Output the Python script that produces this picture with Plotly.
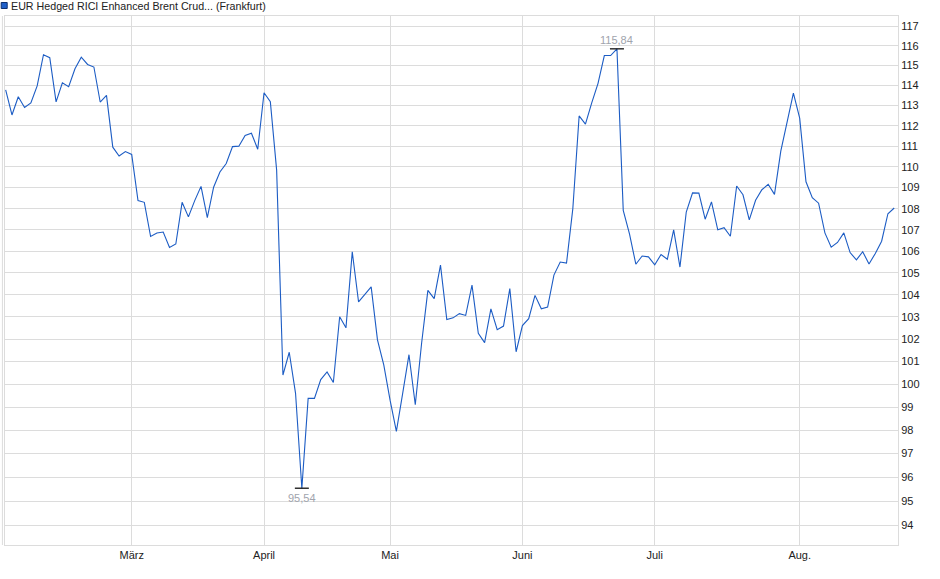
import numpy as np
import plotly.graph_objects as go

# ---- data ----
title_text = "EUR Hedged RICI Enhanced Brent Crud... (Frankfurt)"
month_labels = ["März", "April", "Mai", "Juni", "Juli", "Aug."]
# trading days per month: Feb, Mar, Apr, May, Jun, Jul, Aug(partial)
month_days = [20, 21, 20, 21, 21, 23, 16]

prices = [
    # Feb
    113.77, 112.53, 113.43, 112.90, 113.13, 113.97, 115.54, 115.39, 113.18, 114.13,
    113.93, 114.83, 115.42, 115.05, 114.92, 113.17, 113.50, 110.95, 110.52, 110.74,
    # Mar
    110.60, 108.38, 108.30, 106.69, 106.85, 106.90, 106.18, 106.34, 108.30, 107.61,
    108.38, 109.06, 107.58, 109.02, 109.75, 110.16, 110.98, 111.00, 111.52, 111.63,
    110.85,
    # Apr
    113.63, 113.18, 109.84, 100.40, 101.41, 99.60, 95.54, 99.38, 99.38, 100.20,
    100.54, 100.07, 103.00, 102.50, 105.97, 103.67, 104.00, 104.36, 101.96, 100.85,
    # May
    99.30, 97.95, 99.60, 101.30, 99.10, 101.80, 104.20, 103.82, 105.36, 102.87,
    102.95, 103.14, 103.06, 104.44, 102.25, 101.84, 103.36, 102.42, 102.58, 104.28,
    101.43,
    # Jun
    102.60, 102.91, 103.97, 103.36, 103.44, 104.90, 105.50, 105.45, 108.00, 112.48,
    112.08, 113.13, 114.10, 115.50, 115.50, 115.84, 107.92, 106.80, 105.40, 105.78,
    105.74,
    # Jul
    105.37, 105.85, 105.63, 107.00, 105.27, 107.84, 108.75, 108.74, 107.50, 108.32,
    107.00, 107.10, 106.70, 109.08, 108.66, 107.47, 108.40, 108.90, 109.16, 108.68,
    110.76, 112.13, 113.61,
    # Aug
    112.37, 109.28, 108.52, 108.26, 106.86, 106.19, 106.41, 106.86, 105.94, 105.60,
    105.98, 105.41, 105.90, 106.47, 107.76, 108.03,
]
y_ticks = list(range(94, 118))

# ---- derived ----
x = list(range(len(prices)))
month_starts = list(np.cumsum(month_days)[:-1])
i_max = int(np.argmax(prices))
i_min = int(np.argmin(prices))

def de(v):
    return f"{v:.2f}".replace(".", ",")

FONT = "Liberation Sans, Arial, sans-serif"
LINE_BLUE = "#1c5cc4"
GRID = "#dcdcdc"

fig = go.Figure()
fig.add_trace(go.Scatter(
    x=x, y=prices, mode="lines",
    line=dict(color=LINE_BLUE, width=1.1),
    hoverinfo="skip", showlegend=False,
))
# extreme markers (short black horizontal ticks)
fig.add_trace(go.Scatter(
    x=[i_max, i_min], y=[prices[i_max], prices[i_min]], mode="markers",
    marker=dict(symbol="line-ew", size=10, line=dict(color="#111111", width=1.3)),
    hoverinfo="skip", showlegend=False,
))

fig.add_annotation(x=i_max, y=np.log10(prices[i_max]), text=de(prices[i_max]),
                   showarrow=False, yshift=9, xshift=0,
                   font=dict(family=FONT, size=11, color="#a0a4ad"))
fig.add_annotation(x=i_min, y=np.log10(prices[i_min]), text=de(prices[i_min]),
                   showarrow=False, yshift=-10, xshift=0,
                   font=dict(family=FONT, size=11, color="#a0a4ad"))

# legend-like header
W, H = 940, 579
L, R, T, B = 5.3, 41.7, 16, 34
pw, ph = W - L - R, H - T - B
def px(xp):
    return (xp - L) / pw
def py(yp):
    return (H - B - yp) / ph

fig.add_shape(type="rect", xref="paper", yref="paper",
              x0=px(1.5), x1=px(7.5), y0=py(8.5), y1=py(2.5),
              fillcolor="#1f5fc8", line=dict(color="#0d2f6e", width=1))
fig.add_annotation(xref="paper", yref="paper", x=px(9), y=py(6),
                   xanchor="left", yanchor="middle", showarrow=False,
                   text=title_text,
                   font=dict(family=FONT, size=10.7, color="#222222"))
# outer left frame line
fig.add_shape(type="line", xref="paper", yref="paper",
              x0=px(2.7), x1=px(2.7), y0=py(545), y1=py(16),
              line=dict(color=GRID, width=1))

fig.update_layout(
    width=W, height=H,
    margin=dict(l=L, r=R, t=T, b=B, pad=0),
    paper_bgcolor="white", plot_bgcolor="white",
    font=dict(family=FONT, size=11, color="#222222"),
    showlegend=False,
    hovermode=False,
)
fig.update_xaxes(
    range=[-0.105, 141.6],
    tickmode="array", tickvals=month_starts, ticktext=month_labels,
    showgrid=True, gridcolor=GRID, gridwidth=1,
    showline=True, linecolor=GRID, linewidth=1, mirror=True,
    ticks="", zeroline=False,
    tickfont=dict(family=FONT, size=11, color="#222222"),
)
fig.update_yaxes(
    type="log", side="right",
    range=[np.log10(93.19), np.log10(117.52)],
    tickmode="array", tickvals=y_ticks, ticktext=[str(v) for v in y_ticks],
    showgrid=True, gridcolor=GRID, gridwidth=1,
    showline=True, linecolor=GRID, linewidth=1, mirror=True,
    ticks="", zeroline=False,
    tickfont=dict(family=FONT, size=11, color="#222222"),
)

fig.write_html("out.html", config={"displayModeBar": False},
               post_script="document.body.style.margin='0px';")
